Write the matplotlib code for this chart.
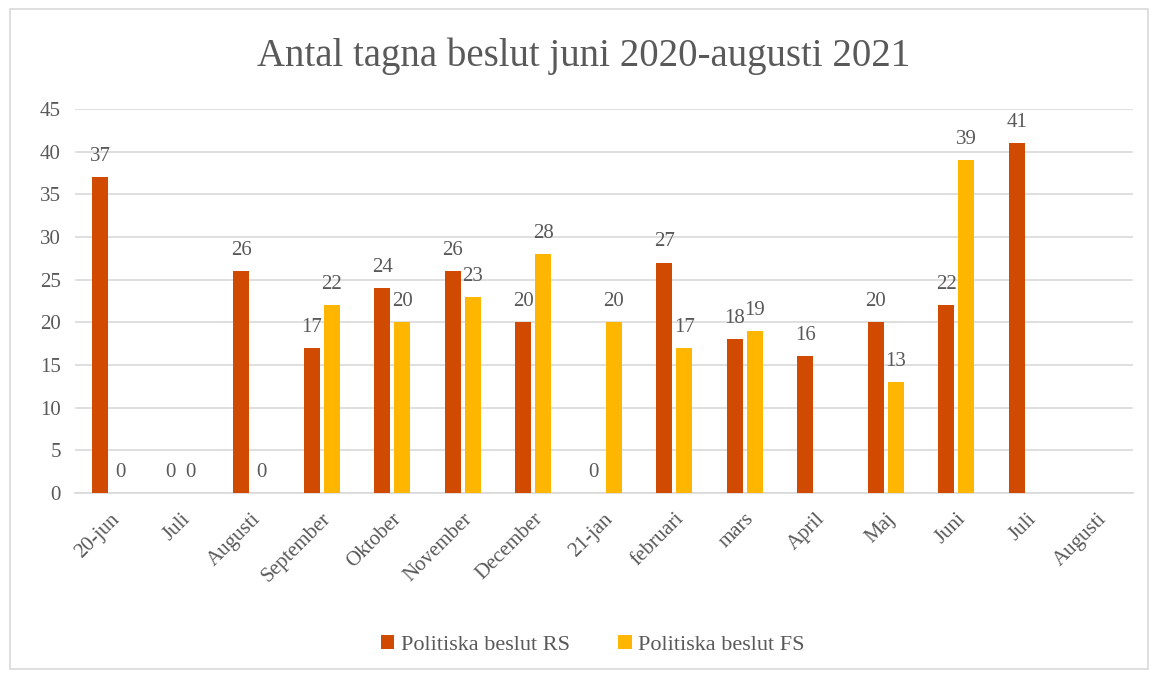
import matplotlib.pyplot as plt
import numpy as np

# data (None = no bar / no label)
months = ['20-jun', 'Juli', 'Augusti', 'September', 'Oktober', 'November',
          'December', '21-jan', 'februari', 'mars', 'April', 'Maj', 'Juni',
          'Juli', 'Augusti']
rs = [37, 0, 26, 17, 24, 26, 20, 0, 27, 18, 16, 20, 22, 41, None]
fs = [0, 0, 0, 22, 20, 23, 28, 20, 17, 19, None, 13, 39, None, None]
yticks = list(range(0, 50, 5))

c_rs = '#D04A02'
c_fs = '#FFB600'
txt = '#595959'
font = 'Liberation Serif'

fig = plt.figure(figsize=(11.51, 6.79), dpi=100)
ax = fig.add_axes([0.065, 0.274, 0.919, 0.5655])

x = np.arange(len(months))
w = 0.227
off = 0.142

for vals, dx, col, name in [(rs, -off, c_rs, 'Politiska beslut RS'),
                            (fs, off, c_fs, 'Politiska beslut FS')]:
    h = [v if v is not None else 0 for v in vals]
    ax.bar(x + dx, h, width=w, color=col, label=name, zorder=3)
    for xi, v in zip(x, vals):
        if v is None:
            continue
        ax.text(xi + dx, v + 1.3, str(v), ha='center', va='bottom',
                fontsize=15, color=txt, family=font)

ax.set_xlim(-0.5, len(months) - 0.5)
ax.set_ylim(0, 45)
ax.set_yticks(yticks)
ax.yaxis.grid(True, color='#D9D9D9', linewidth=1.2, zorder=0)
ax.tick_params(axis='both', length=0, colors=txt, labelsize=15)
ax.tick_params(axis='y', pad=10)
ax.tick_params(axis='x', pad=12)
for lab in ax.get_yticklabels():
    lab.set_family(font)
ax.set_xticks(x)
ax.set_xticklabels(months, rotation=45, ha='right', rotation_mode='anchor',
                   family=font, fontsize=15)
for s in ['top', 'right', 'left']:
    ax.spines[s].set_visible(False)
ax.spines['bottom'].set_color('#D9D9D9')
ax.spines['bottom'].set_linewidth(1.2)

fig.text(0.507, 0.917, 'Antal tagna beslut juni 2020-augusti 2021',
         ha='center', va='center', fontsize=28, color=txt, family=font)

fig.legend(loc='center', bbox_to_anchor=(0.515, 0.05), ncol=2, frameon=False,
           prop={'family': font, 'size': 16}, handlelength=0.6,
           handleheight=0.6, columnspacing=2.2, handletextpad=0.3,
           labelcolor=txt)

fig.patches.append(plt.Rectangle((0.009, 0.015), 0.988, 0.972,
                                 transform=fig.transFigure, fill=False,
                                 edgecolor='#D9D9D9', linewidth=1.2))

fig.savefig('out.png', dpi=100)
